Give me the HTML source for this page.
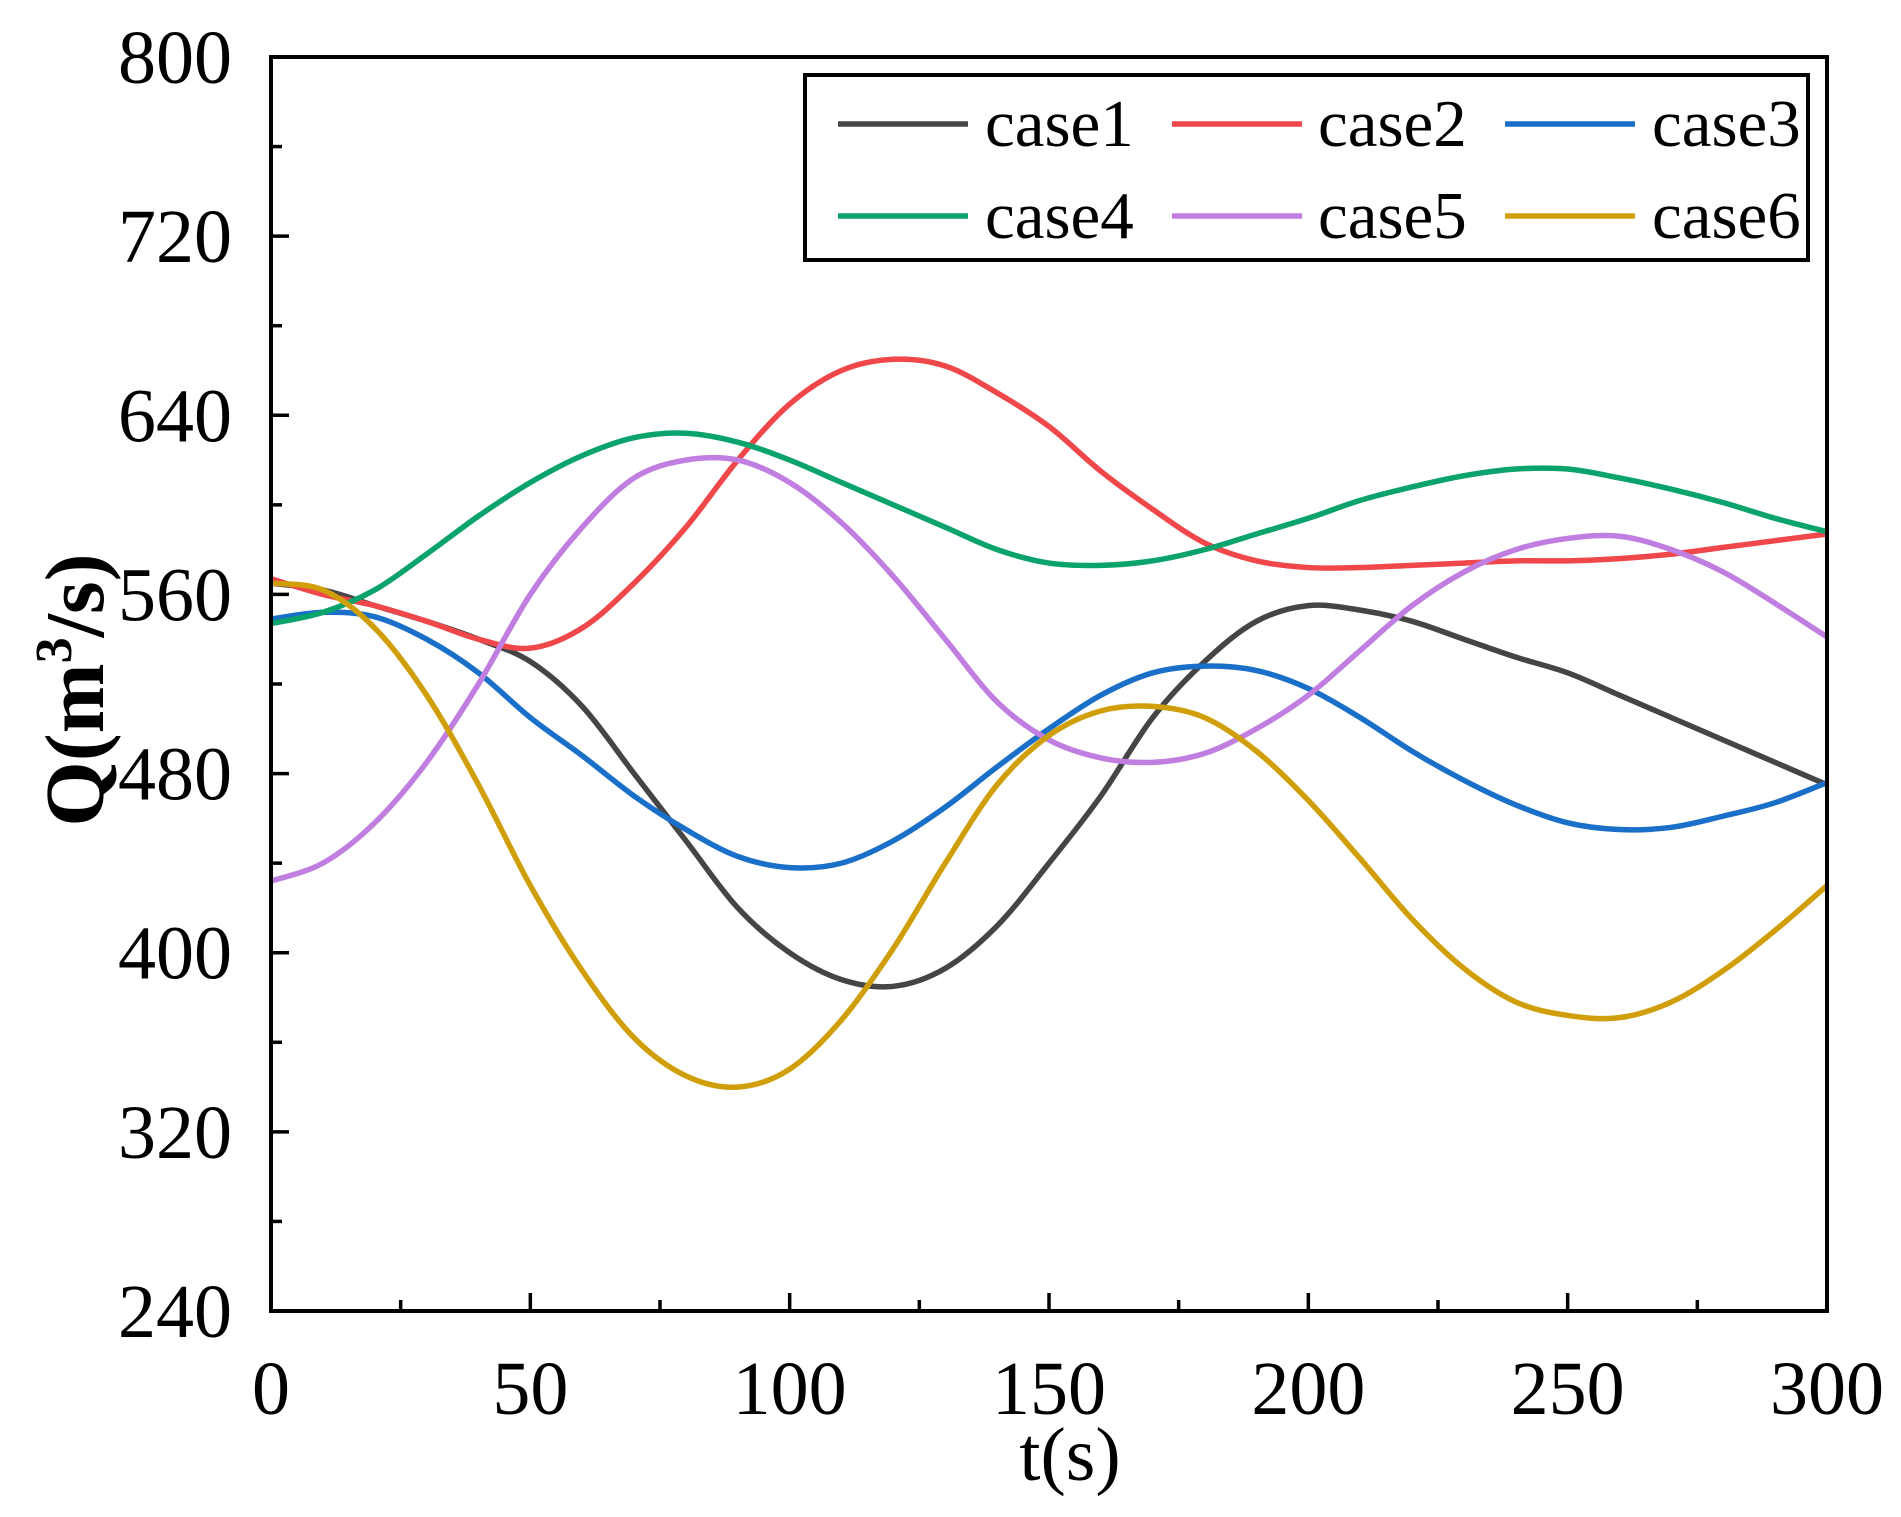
<!DOCTYPE html>
<html><head><meta charset="utf-8"><style>
html,body{margin:0;padding:0;background:#fff;}
svg{display:block;font-family:"Liberation Serif",serif;}
</style></head><body>
<svg id="chart" width="1901" height="1517" viewBox="0 0 1901 1517"></svg>
<script>
const times=[0,10,20,30,40,50,60,70,80,90,100,110,120,130,140,150,160,170,180,190,200,210,220,230,240,250,260,270,280,290,300];
const case1=[565,562,555,548,540,530,510,480,450,420,400,388,385,393,412,440,470,505,530,548,555,553,548,540,532,525,515,505,495,485,475];
const case2=[567,560,555,548,540,536,545,565,590,620,645,660,665,662,650,635,615,598,583,575,572,572,573,574,575,575,576,578,581,584,587];
const case3=[549,552,550,540,525,505,488,470,455,443,438,440,450,465,483,500,515,525,528,526,518,505,490,477,466,458,455,456,461,467,476];
const case4=[547,552,562,578,595,610,622,630,632,628,620,610,600,590,580,574,573,575,580,587,594,602,608,613,616,616,612,607,601,594,588];
const case5=[432,440,458,485,520,560,590,612,620,620,610,592,568,540,512,495,487,485,489,500,515,535,555,570,580,585,586,580,570,556,541];
const case6=[565,562,545,515,475,430,392,362,345,340,348,370,402,440,475,497,508,510,505,490,468,442,415,393,378,372,371,378,392,410,430];
const seriesNames=["case1","case2","case3","case4","case5","case6"];
const seriesData=[case1,case2,case3,case4,case5,case6];
const colors=["#454545","#f0474a","#1a6fc8","#0aa36b","#c07ee0","#d09e08"];
const yTicks=[240,320,400,480,560,640,720,800];
const xTicks=[0,50,100,150,200,250,300];

const L=271,R=1827,T=57,B=1311;
const xs=t=>L+(t-0)/(300-0)*(R-L);
const ys=v=>B-(v-240)/(800-240)*(B-T);
const NS="http://www.w3.org/2000/svg";
const svg=document.getElementById('chart');
function mk(tag,attrs,parent){const e=document.createElementNS(NS,tag);for(const k in attrs)e.setAttribute(k,attrs[k]);(parent||svg).appendChild(e);return e;}

seriesData.forEach((d,si)=>{
  const p=d.map((v,i)=>[xs(times[i]),ys(v)]);
  let s="M"+p[0][0]+","+p[0][1];
  for(let i=0;i<p.length-1;i++){
    const p0=p[Math.max(0,i-1)],p1=p[i],p2=p[i+1],p3=p[Math.min(p.length-1,i+2)];
    const c1x=p1[0]+(p2[0]-p0[0])/6,c1y=p1[1]+(p2[1]-p0[1])/6;
    const c2x=p2[0]-(p3[0]-p1[0])/6,c2y=p2[1]-(p3[1]-p1[1])/6;
    s+=" C"+c1x+","+c1y+" "+c2x+","+c2y+" "+p2[0]+","+p2[1];
  }
  const path=mk('path',{d:s,fill:'none',stroke:colors[si],'stroke-width':5.5,'stroke-linejoin':'round'});
  
  
});

const frame=mk('rect',{x:L,y:T,width:R-L,height:B-T,fill:'none',stroke:'#000','stroke-width':4});



for(let v=240;v<=800;v+=40){
  const major=(v-240)%80===0;
  const tk=mk('line',{x1:L,x2:L+(major?18:11),y1:ys(v),y2:ys(v),stroke:'#000','stroke-width':3.5});
  
  
}
yTicks.forEach(v=>{
  const t=mk('text',{x:232,y:ys(v)+26,'text-anchor':'end','font-size':76,fill:'#000'});
  t.textContent=v;
  
  
});
for(let v=0;v<=300;v+=25){
  const major=v%50===0;
  const tk=mk('line',{x1:xs(v),x2:xs(v),y1:B,y2:B-(major?18:11),stroke:'#000','stroke-width':3.5});
  
  
}
xTicks.forEach(v=>{
  const t=mk('text',{x:xs(v),y:1414,'text-anchor':'middle','font-size':76,fill:'#000'});
  t.textContent=v;
  
  
});
const xt=mk('text',{x:1070,y:1480,'text-anchor':'middle','font-size':76,fill:'#000'});
xt.textContent='t(s)';


const yt=mk('text',{x:0,y:0,'text-anchor':'middle','font-size':84,'font-weight':'bold',fill:'#000',transform:'translate(103,690) rotate(-90)'});
yt.innerHTML='Q(m<tspan dy="-32" font-size="52">3</tspan><tspan dy="32">/s)</tspan>';



const lg=mk('rect',{x:805,y:75,width:1003,height:185,fill:'#fff',stroke:'#000','stroke-width':4});


const lineX=[838,1172,1505],textX=[985,1318,1652],rowY=[124,216];
seriesNames.forEach((n,i)=>{
  const c=i%3,r=Math.floor(i/3);
  const ln=mk('line',{x1:lineX[c],x2:lineX[c]+130,y1:rowY[r],y2:rowY[r],stroke:colors[i],'stroke-width':5.5});
  
  
  const tx=mk('text',{x:textX[c],y:rowY[r]+22,'font-size':67,fill:'#000'});
  tx.textContent=n;
  
  
});
</script>
</body></html>
